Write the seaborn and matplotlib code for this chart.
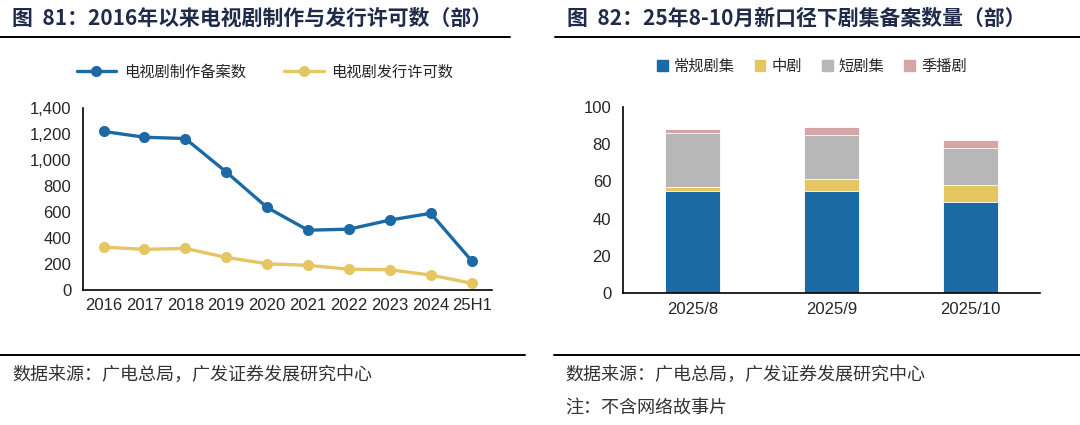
import numpy as np
import pandas as pd
import matplotlib
matplotlib.use('Agg')
import matplotlib.pyplot as plt
from matplotlib.lines import Line2D
from matplotlib.patches import Patch
import seaborn as sns

sns.set_style('white')
plt.rcParams['font.family'] = ['Liberation Sans', 'Noto Sans CJK SC', 'DejaVu Sans']

# left chart data
years = ['2016', '2017', '2018', '2019', '2020', '2021', '2022', '2023', '2024', '25H1']
filing = [1220, 1175, 1165, 908, 635, 460, 468, 538, 590, 225]
license_ = [330, 313, 320, 251, 202, 190, 160, 156, 115, 52]

# right chart data
months = ['2025/8', '2025/9', '2025/10']
regular = [55, 55, 49]
mid = [2, 6, 9]
short = [29, 24, 20]
season = [2, 4, 4]

blue = '#1B6AA5'
yellow = '#E5C662'
grey = '#B7B7B7'
pink = '#D4A6A6'
navy = '#1F2B48'
cjk = ['Noto Sans CJK SC', 'DejaVu Sans']

fig = plt.figure(figsize=(10.8, 4.25), dpi=100)

# ---- left: line chart ----
ax1 = fig.add_axes([0.0769, 0.3176, 0.3787, 0.4283])
pos = np.arange(len(years))
sns.lineplot(x=pos, y=filing, ax=ax1, color=blue, marker='o', markersize=8,
             markeredgewidth=0, linewidth=2.4, label='电视剧制作备案数')
sns.lineplot(x=pos, y=license_, ax=ax1, color=yellow, marker='o', markersize=8,
             markeredgewidth=0, linewidth=2.4, label='电视剧发行许可数')
ax1.set_xlim(-0.5, len(years) - 0.5)
ax1.set_ylim(0, 1400)
ax1.set_yticks(range(0, 1401, 200))
ax1.set_yticklabels([f'{v:,}' for v in range(0, 1401, 200)])
ax1.set_xticks(np.arange(-0.5, len(years), 1.0))
ax1.set_xticklabels([])
ax1.set_xticks(pos, minor=True)
ax1.set_xticklabels(years, minor=True)
ax1.tick_params(axis='x', which='minor', length=0, pad=6, labelsize=12)
ax1.tick_params(axis='x', which='major', length=5, direction='out', color='black')
ax1.tick_params(axis='y', length=5, direction='out', labelsize=12, color='black')
ax1.legend(loc='center', bbox_to_anchor=(0.445, 1.198), ncol=2, frameon=False,
           prop={'family': cjk, 'size': 11}, handlelength=2.6, handletextpad=0.5,
           columnspacing=2.5)
sns.despine(ax=ax1)
for s in ['left', 'bottom']:
    ax1.spines[s].set_color('black')
    ax1.spines[s].set_linewidth(1.2)

# ---- right: stacked bars ----
ax2 = fig.add_axes([0.5769, 0.3099, 0.3861, 0.4391])
df = pd.DataFrame({'month': months, '常规剧集': regular, '中剧': mid, '短剧集': short, '季播剧': season})
cols = ['常规剧集', '中剧', '短剧集', '季播剧']
colors = [blue, yellow, grey, pink]
cum = df[cols].cumsum(axis=1)
for c, col in zip(reversed(cols), reversed(colors)):
    sns.barplot(x=df['month'], y=cum[c], ax=ax2, color=col, width=0.39,
                saturation=1, edgecolor='white', linewidth=0.6)
ax2.set_xlim(-0.5, 2.5)
ax2.set_ylim(0, 100)
ax2.set_yticks(range(0, 101, 20))
ax2.set_xticks(np.arange(-0.5, 3, 1.0))
ax2.set_xticklabels([])
ax2.set_xticks(range(3), minor=True)
ax2.set_xticklabels(months, minor=True)
ax2.set_xlabel('')
ax2.set_ylabel('')
ax1.set_xlabel('')
ax2.tick_params(axis='x', which='minor', length=0, pad=6, labelsize=12)
ax2.tick_params(axis='x', which='major', length=5, direction='out', color='black')
ax2.tick_params(axis='y', length=5, direction='out', labelsize=12, color='black')
handles = [Patch(color=c, label=l) for c, l in zip(colors, cols)]
ax2.legend(handles=handles, loc='center', bbox_to_anchor=(0.453, 1.215), ncol=4,
           frameon=False, prop={'family': cjk, 'size': 11}, handlelength=0.7,
           handleheight=0.7, handletextpad=0.4, columnspacing=1.3)
sns.despine(ax=ax2)
for s in ['left', 'bottom']:
    ax2.spines[s].set_color('black')
    ax2.spines[s].set_linewidth(1.2)

# ---- titles, rules, footnotes ----
fig.text(0.011, 0.957, '图  81：2016年以来电视剧制作与发行许可数（部）', fontsize=15,
         fontweight='bold', color=navy, va='center', family=cjk)
fig.text(0.525, 0.957, '图  82：25年8-10月新口径下剧集备案数量（部）', fontsize=15,
         fontweight='bold', color=navy, va='center', family=cjk)
for x0, x1 in [(0.0, 0.472), (0.514, 1.0)]:
    fig.add_artist(Line2D([x0, x1], [0.913, 0.913], color='black', linewidth=1.4))
for x0, x1 in [(0.0, 0.486), (0.513, 1.0)]:
    fig.add_artist(Line2D([x0, x1], [0.1647, 0.1647], color='black', linewidth=1.4))
fig.text(0.011, 0.118, '数据来源：广电总局，广发证券发展研究中心', fontsize=13,
         color='#333333', va='center', family=cjk, fontweight='light')
fig.text(0.523, 0.118, '数据来源：广电总局，广发证券发展研究中心', fontsize=13,
         color='#333333', va='center', family=cjk, fontweight='light')
fig.text(0.523, 0.038, '注：不含网络故事片', fontsize=13,
         color='#333333', va='center', family=cjk, fontweight='light')

fig.savefig('out.png', dpi=100)
